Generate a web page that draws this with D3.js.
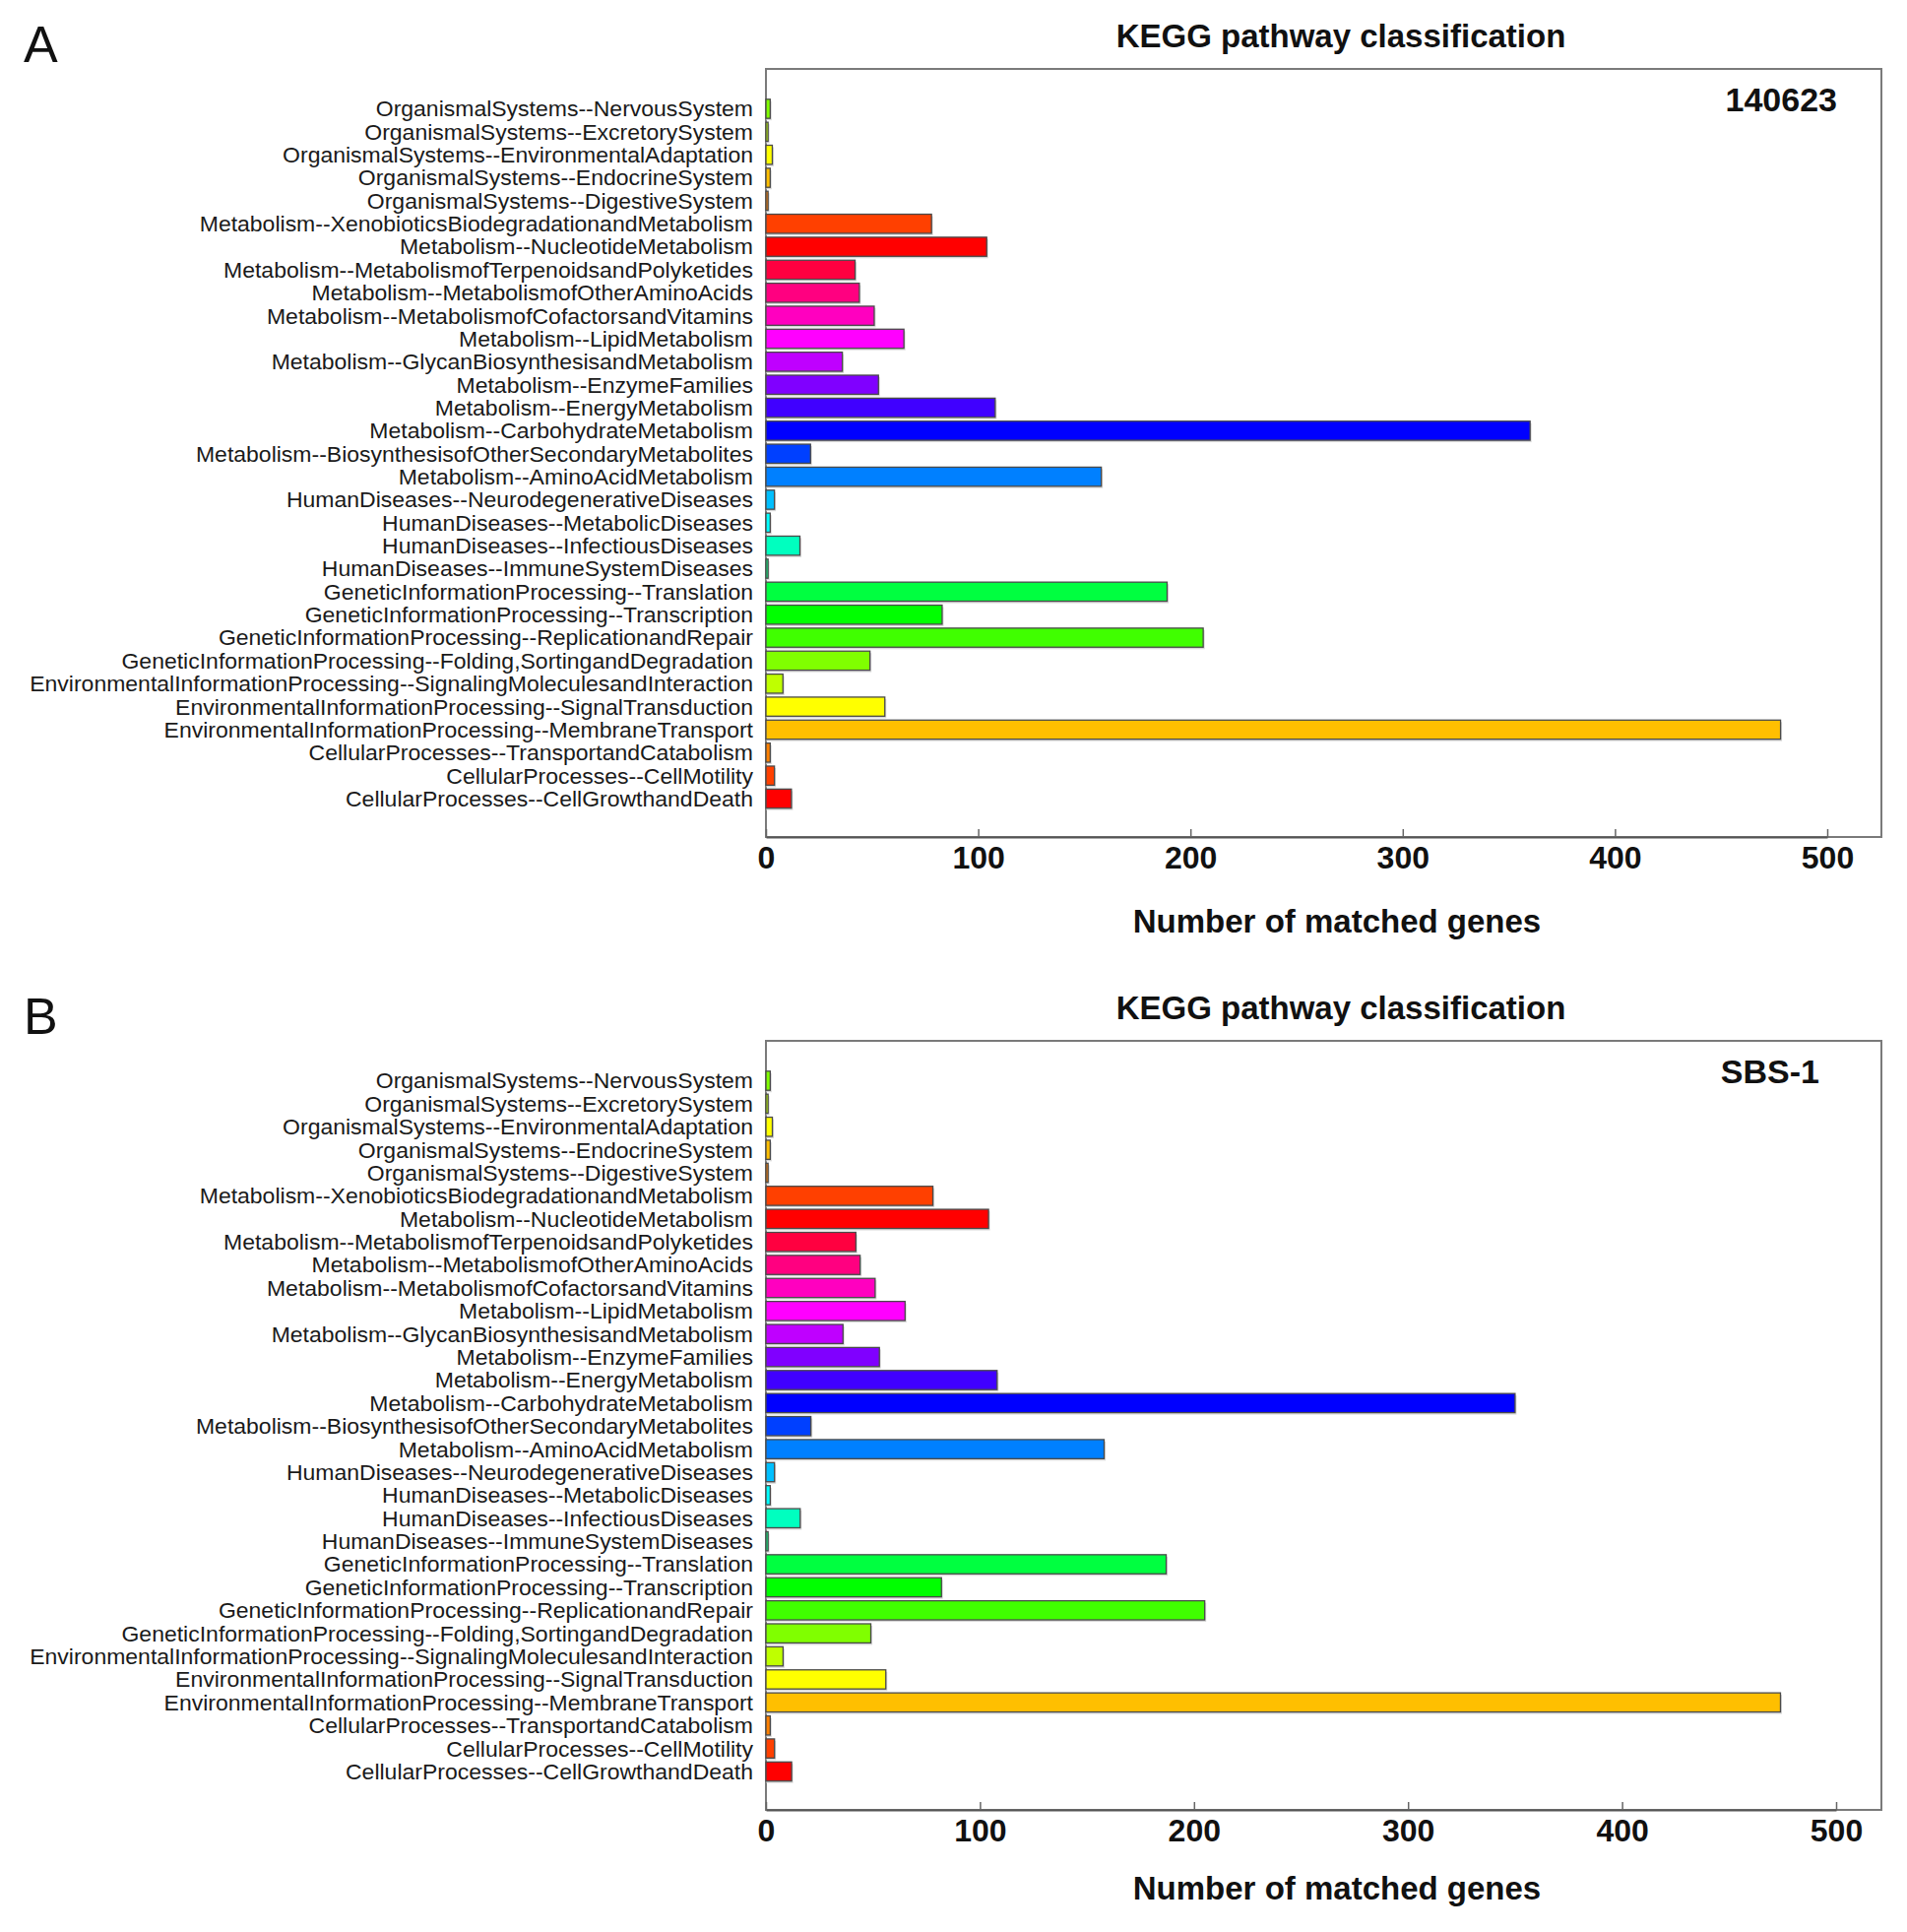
<!DOCTYPE html>
<html><head><meta charset="utf-8">
<script src="https://cdn.jsdelivr.net/npm/d3@7"></script>
<style>body{margin:0;background:#fff} svg{display:block}</style>
</head><body><svg id="c" width="1937" height="1962"></svg>
<script>
const categories = [
  "OrganismalSystems--NervousSystem",
  "OrganismalSystems--ExcretorySystem",
  "OrganismalSystems--EnvironmentalAdaptation",
  "OrganismalSystems--EndocrineSystem",
  "OrganismalSystems--DigestiveSystem",
  "Metabolism--XenobioticsBiodegradationandMetabolism",
  "Metabolism--NucleotideMetabolism",
  "Metabolism--MetabolismofTerpenoidsandPolyketides",
  "Metabolism--MetabolismofOtherAminoAcids",
  "Metabolism--MetabolismofCofactorsandVitamins",
  "Metabolism--LipidMetabolism",
  "Metabolism--GlycanBiosynthesisandMetabolism",
  "Metabolism--EnzymeFamilies",
  "Metabolism--EnergyMetabolism",
  "Metabolism--CarbohydrateMetabolism",
  "Metabolism--BiosynthesisofOtherSecondaryMetabolites",
  "Metabolism--AminoAcidMetabolism",
  "HumanDiseases--NeurodegenerativeDiseases",
  "HumanDiseases--MetabolicDiseases",
  "HumanDiseases--InfectiousDiseases",
  "HumanDiseases--ImmuneSystemDiseases",
  "GeneticInformationProcessing--Translation",
  "GeneticInformationProcessing--Transcription",
  "GeneticInformationProcessing--ReplicationandRepair",
  "GeneticInformationProcessing--Folding,SortingandDegradation",
  "EnvironmentalInformationProcessing--SignalingMoleculesandInteraction",
  "EnvironmentalInformationProcessing--SignalTransduction",
  "EnvironmentalInformationProcessing--MembraneTransport",
  "CellularProcesses--TransportandCatabolism",
  "CellularProcesses--CellMotility",
  "CellularProcesses--CellGrowthandDeath"
];
const values140623 = [2,1,3,2,1,78,104,42,44,51,65,36,53,108,360,21,158,4,2,16,1,189,83,206,49,8,56,478,2,4,12];
const valuesSBS1   = [2,1,3,2,1,78,104,42,44,51,65,36,53,108,350,21,158,4,2,16,1,187,82,205,49,8,56,474,2,4,12];
const barColors = [
  "#80FF00","#BFFF00","#FFFF00","#FFBF00","#FF8000","#FF4000","#FF0000","#FF0040",
  "#FF0080","#FF00BF","#FF00FF","#BF00FF","#8000FF","#4000FF","#0000FF","#0040FF",
  "#0080FF","#00BFFF","#00FFFF","#00FFBF","#00FF80","#00FF40","#00FF00","#40FF00",
  "#80FF00","#BFFF00","#FFFF00","#FFBF00","#FF8000","#FF4000","#FF0000"
];
const xTicks = [0,100,200,300,400,500];
const panelLetters = ["A","B"];
const sampleNames = ["140623","SBS-1"];
const chartTitle = "KEGG pathway classification";
const xAxisTitle = "Number of matched genes";

const FONT = "'Liberation Sans', Arial, Helvetica, sans-serif";
const svg = d3.select("#c");

const panels = [
  {letter: panelLetters[0], name: sampleNames[0], values: values140623, top: 70, bottom: 850, x500: 1856, nameX: 1866, titleDy: 97},
  {letter: panelLetters[1], name: sampleNames[1], values: valuesSBS1, top: 1057, bottom: 1838, x500: 1865, nameX: 1848, titleDy: 91}
];

const left = 778, right = 1911, labelX = 765;

panels.forEach(p => {
  const g = svg.append("g");
  const x = d3.scaleLinear().domain([0, 500]).range([left, p.x500]);
  const y = d3.scaleBand().domain(categories)
    .range([p.top + 28.8, p.bottom - 27.3]).paddingInner(0.17).paddingOuter(0.085);

  g.append("text").attr("x", 24).attr("y", p.top - 7)
    .attr("font-family", FONT).attr("font-size", 52).attr("fill", "#111")
    .text(p.letter);

  g.append("text").attr("x", 1362).attr("y", p.top - 22)
    .attr("text-anchor", "middle").attr("font-family", FONT)
    .attr("font-size", 33).attr("font-weight", "bold").attr("fill", "#111")
    .text(chartTitle);

  g.append("rect").attr("x", left).attr("y", p.top)
    .attr("width", right - left).attr("height", p.bottom - p.top)
    .attr("fill", "none").attr("stroke", "#7a7a7a").attr("stroke-width", 2);

  g.append("text").attr("x", p.nameX).attr("y", p.top + 43)
    .attr("text-anchor", "end").attr("font-family", FONT)
    .attr("font-size", 34).attr("font-weight", "bold").attr("fill", "#111")
    .text(p.name);

  const rows = categories.map((c, i) => ({c, v: p.values[i], col: barColors[i]}));

  g.append("g").selectAll("rect").data(rows).join("rect")
    .attr("x", x(0)).attr("y", d => y(d.c) + 2)
    .attr("width", d => x(d.v) - x(0) + 1.5)
    .attr("height", y.bandwidth())
    .attr("fill", "#c8c8c8").attr("opacity", 0.7);

  g.append("g").selectAll("rect").data(rows).join("rect")
    .attr("x", x(0)).attr("y", d => y(d.c))
    .attr("width", d => x(d.v) - x(0))
    .attr("height", y.bandwidth())
    .attr("fill", d => d.col).attr("stroke", "#4a4a4a").attr("stroke-width", 1.3);

  g.append("g")
    .attr("transform", `translate(${labelX},0) scale(1.045,1)`)
    .selectAll("text").data(rows).join("text")
    .attr("x", 0).attr("y", d => y(d.c) + y.bandwidth() / 2)
    .attr("dy", "0.36em").attr("text-anchor", "end")
    .attr("font-family", FONT).attr("font-size", 22).attr("fill", "#1a1a1a")
    .text(d => d.c);

  const ax = g.append("g").attr("transform", `translate(0,${p.bottom})`)
    .call(d3.axisBottom(x).tickValues(xTicks).tickFormat(d3.format("d"))
      .tickSizeInner(-8).tickSizeOuter(0).tickPadding(9));
  ax.select(".domain").attr("stroke", "#555").attr("stroke-width", 2);
  ax.selectAll(".tick line").attr("stroke", "#666").attr("stroke-width", 1.5);
  ax.selectAll(".tick text").attr("font-family", FONT).attr("font-size", 32)
    .attr("font-weight", "bold").attr("fill", "#111");

  g.append("text").attr("x", 1358).attr("y", p.bottom + p.titleDy)
    .attr("text-anchor", "middle").attr("font-family", FONT)
    .attr("font-size", 33).attr("font-weight", "bold").attr("fill", "#111")
    .text(xAxisTitle);
});
</script>
</body></html>
